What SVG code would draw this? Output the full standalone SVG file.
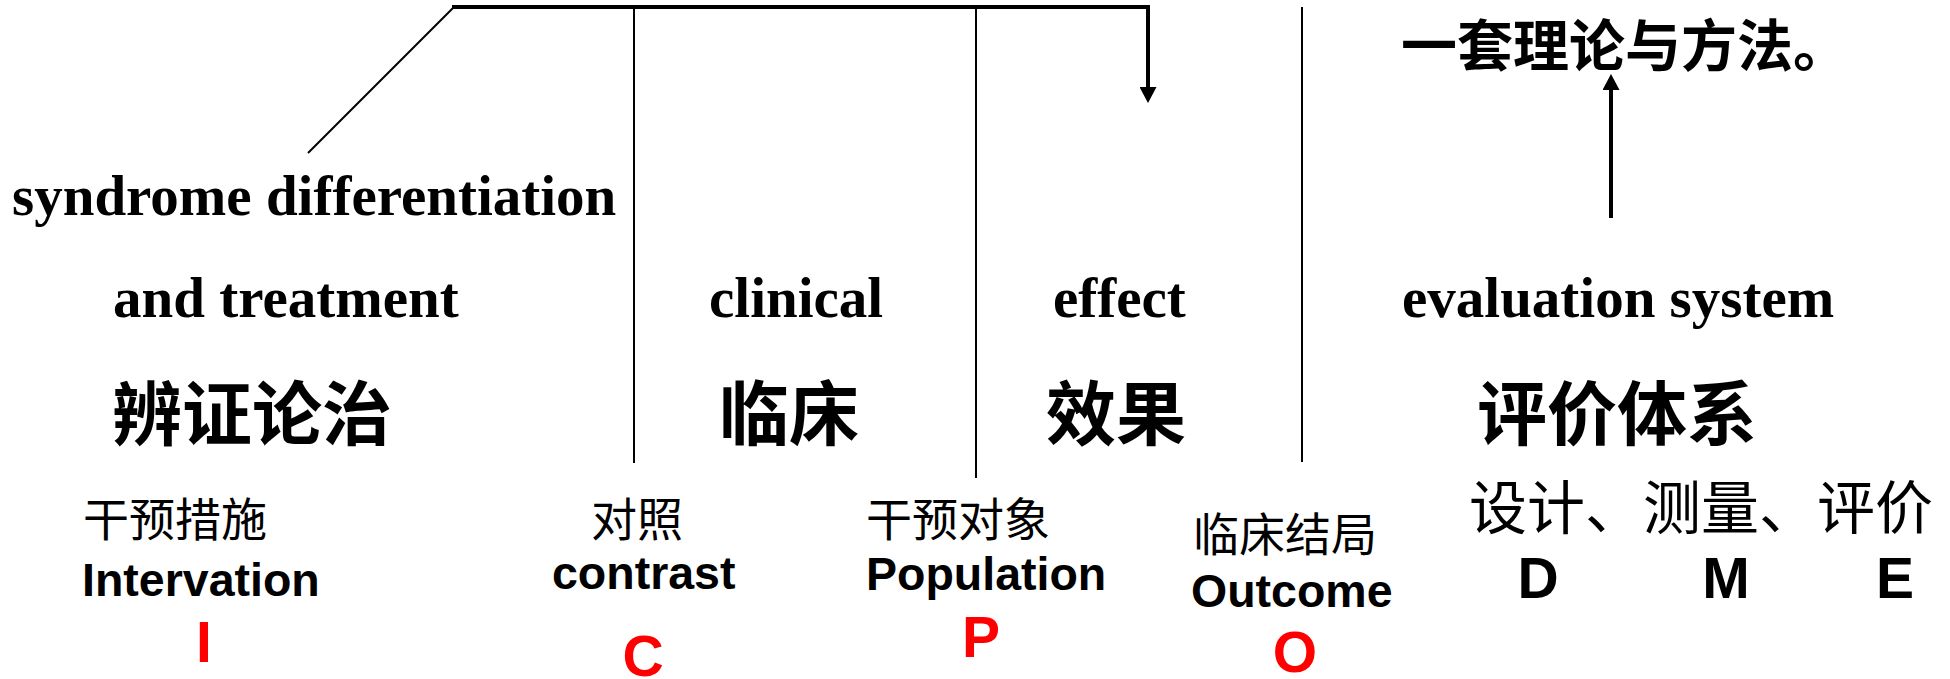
<svg xmlns="http://www.w3.org/2000/svg" width="1950" height="679" viewBox="0 0 1950 679">
<style>
.en{font-family:"Liberation Serif","Times New Roman",serif;font-weight:bold;font-size:57px;fill:#000}
.cjkb{font-family:"Noto Sans CJK SC",sans-serif;font-weight:bold;font-size:70px;fill:#000;text-anchor:middle}
.cjk{font-family:"Noto Sans CJK SC",sans-serif;font-weight:normal;font-size:46px;fill:#000}
.ar{font-family:"Liberation Sans",Arial,sans-serif;font-weight:bold;font-size:46.5px;fill:#000}
.big{font-family:"Liberation Sans",Arial,sans-serif;font-weight:bold;font-size:57px;text-anchor:middle}
.red{fill:#FF0000}
.blk{fill:#000}
.thin{stroke:#000;stroke-width:2;fill:none}
.thick{stroke:#000;stroke-width:4;fill:none}
</style>
<defs>
<marker id="ah" markerUnits="userSpaceOnUse" markerWidth="17" markerHeight="17" refX="0" refY="8.5" orient="auto" viewBox="0 0 17 17">
<path d="M0,0 L16,8.5 L0,17 Z" fill="#000"/>
</marker>
</defs>
<rect width="1950" height="679" fill="#fff"/>
<g id="connectors">
<line class="thin" x1="453" y1="8" x2="308" y2="153"/>
<line class="thin" x1="634" y1="7" x2="634" y2="463"/>
<line class="thin" x1="976" y1="7" x2="976" y2="478"/>
<line class="thin" x1="1302" y1="7" x2="1302" y2="462"/>
<path class="thick" d="M452,7 H1148 V87" marker-end="url(#ah)"/>
<path class="thick" d="M1611,218 V90" marker-end="url(#ah)"/>
</g>
<g id="top-right">
<text class="cjk" style="font-weight:bold;font-size:56px" x="1401" y="66">一套理论与方法。</text>
</g>
<g id="node-syndrome">
<text class="en" x="12" y="215">syndrome differentiation</text>
<text class="en" x="113" y="317">and treatment</text>
<text class="cjkb" x="252" y="440">辨证论治</text>
</g>
<g id="node-clinical">
<text class="en" x="709" y="317">clinical</text>
<text class="cjkb" x="789" y="440">临床</text>
</g>
<g id="node-effect">
<text class="en" x="1053" y="317">effect</text>
<text class="cjkb" x="1116" y="440">效果</text>
</g>
<g id="node-evaluation">
<text class="en" x="1402" y="317">evaluation system</text>
<text class="cjkb" x="1617" y="440">评价体系</text>
</g>
<g id="node-I">
<text class="cjk" x="83" y="536">干预措施</text>
<text class="ar" x="82" y="596">Intervation</text>
<text class="big red" x="204" y="662">I</text>
</g>
<g id="node-C">
<text class="cjk" style="text-anchor:middle" x="637" y="536">对照</text>
<text class="ar" x="552" y="589">contrast</text>
<text class="big red" x="643" y="676">C</text>
</g>
<g id="node-P">
<text class="cjk" style="text-anchor:middle" x="958" y="536">干预对象</text>
<text class="ar" x="866" y="590">Population</text>
<text class="big red" x="981" y="657">P</text>
</g>
<g id="node-O">
<text class="cjk" style="text-anchor:middle" x="1285" y="551">临床结局</text>
<text class="ar" x="1191" y="607">Outcome</text>
<text class="big red" x="1295" y="672">O</text>
</g>
<g id="node-DME">
<text class="cjk" style="font-size:58px" x="1469" y="529">设计、测量、评价</text>
<text class="big blk" x="1538" y="598">D</text>
<text class="big blk" x="1726" y="598">M</text>
<text class="big blk" x="1895" y="598">E</text>
</g>
</svg>
